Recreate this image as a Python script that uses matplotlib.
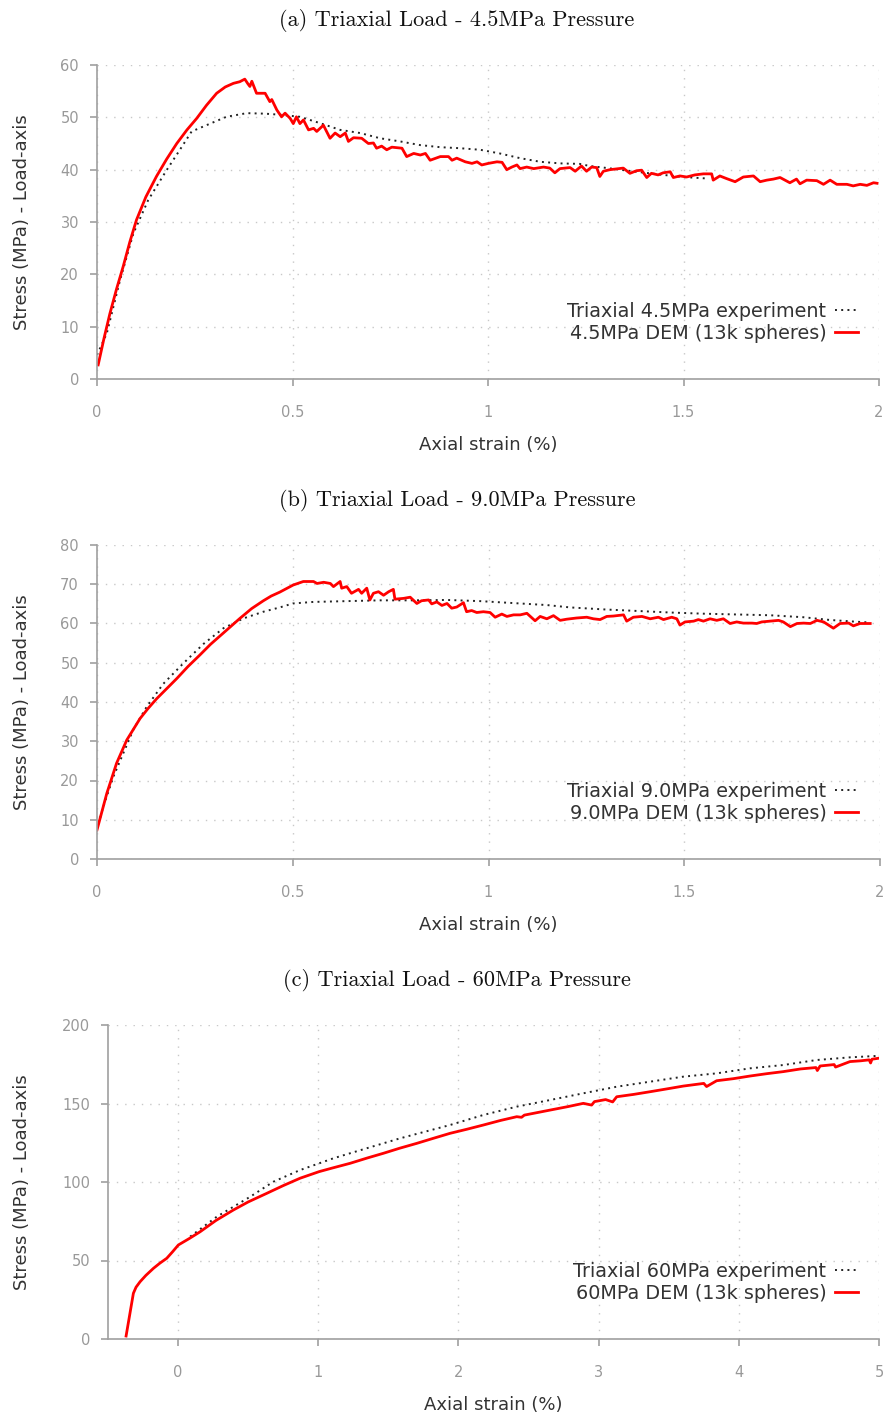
import matplotlib
matplotlib.use("Agg")
import matplotlib.pyplot as plt

# ---- (a) 4.5 MPa confining pressure ----
a_exp_x = [0, 0.025, 0.059, 0.093, 0.131, 0.178, 0.212, 0.242, 0.28, 0.331, 0.383, 0.43,
           0.468, 0.519, 0.57, 0.622, 0.673, 0.724, 0.775, 0.826, 0.877, 0.928, 0.98, 1.03,
           1.082, 1.134, 1.185, 1.235, 1.26, 1.295, 1.38, 1.448, 1.5, 1.563]
a_exp_y = [4.6, 8.7, 18.9, 27.8, 34.2, 39.9, 43.8, 47.3, 48.5, 50.1, 50.8, 50.7,
           50.5, 50.1, 48.9, 47.6, 47.0, 46.0, 45.4, 44.7, 44.3, 44.1, 43.8, 43.1,
           42.2, 41.5, 41.2, 41.1, 40.7, 40.4, 39.6, 39.0, 38.6, 38.3]
a_dem_x = [0.003, 0.018, 0.033, 0.05, 0.067, 0.084, 0.101, 0.125, 0.152, 0.178, 0.204, 0.23,
           0.255, 0.28, 0.306, 0.328, 0.349, 0.365, 0.378, 0.386,
           0.391, 0.396, 0.408, 0.43, 0.442, 0.447, 0.46, 0.472, 0.481, 0.494, 0.502, 0.51,
           0.519, 0.528, 0.541, 0.554, 0.562, 0.579, 0.596, 0.609, 0.622, 0.635, 0.643, 0.656,
           0.677, 0.694, 0.707, 0.715, 0.728, 0.741, 0.754, 0.78, 0.792, 0.81, 0.827, 0.84,
           0.852, 0.878, 0.899, 0.908, 0.92, 0.942, 0.959, 0.972, 0.984, 1.001, 1.023, 1.036,
           1.048, 1.061, 1.074, 1.082, 1.099, 1.117, 1.142, 1.158, 1.171, 1.184, 1.21, 1.223,
           1.239, 1.252, 1.265, 1.278, 1.286, 1.295, 1.312, 1.346, 1.363, 1.38, 1.393, 1.406,
           1.418, 1.435, 1.448, 1.466, 1.474, 1.491, 1.508, 1.529, 1.551, 1.572, 1.576, 1.593,
           1.61, 1.632, 1.653, 1.679, 1.696, 1.713, 1.73, 1.747, 1.772, 1.789, 1.798, 1.815,
           1.841, 1.858, 1.875, 1.892, 1.918, 1.934, 1.952, 1.969, 1.986, 1.995]
a_dem_y = [2.7, 7.8, 12.5, 17.2, 21.5, 26.2, 30.4, 34.8, 38.7, 42.0, 45.0, 47.6,
           49.8, 52.3, 54.6, 55.8, 56.5, 56.8, 57.3, 56.4,
           55.9, 56.9, 54.6, 54.6, 53.0, 53.4, 51.4, 50.1, 50.8, 49.8, 48.8, 50.1,
           48.8, 49.5, 47.6, 47.9, 47.3, 48.5, 46.0, 47.0, 46.3, 47.0, 45.4, 46.1,
           46.0, 45.0, 45.1, 44.1, 44.5, 43.8, 44.3, 44.1, 42.5, 43.1, 42.8, 43.1,
           41.8, 42.5, 42.5, 41.8, 42.2, 41.5, 41.2, 41.5, 40.9, 41.2, 41.5, 41.4,
           40.0, 40.5, 40.9, 40.2, 40.5, 40.2, 40.5, 40.3, 39.4, 40.2, 40.4, 39.7,
           40.7, 39.7, 40.5, 40.4, 38.7, 39.7, 40.0, 40.3, 39.3, 39.8, 39.9, 38.5,
           39.3, 39.0, 39.4, 39.6, 38.5, 38.8, 38.6, 39.0, 39.2, 39.2, 38.0, 38.8,
           38.3, 37.7, 38.6, 38.8, 37.7, 38.0, 38.2, 38.5, 37.5, 38.2, 37.3, 38.0,
           37.9, 37.2, 38.0, 37.2, 37.2, 36.9, 37.2, 37.0, 37.5, 37.4]

# ---- (b) 9.0 MPa confining pressure ----
b_exp_x = [0.008, 0.016, 0.042, 0.067, 0.093, 0.127, 0.169, 0.22, 0.272, 0.323, 0.374, 0.425,
           0.467, 0.5, 0.553, 0.638, 0.723, 0.808, 0.894, 0.979, 1.064, 1.149, 1.208, 1.293,
           1.379, 1.464, 1.549, 1.634, 1.719, 1.804, 1.872, 1.932, 1.966]
b_exp_y = [10.5, 13.3, 21.0, 26.9, 33.0, 38.8, 44.6, 49.8, 54.8, 58.8, 61.3, 63.0,
           64.1, 65.1, 65.5, 65.7, 65.9, 65.9, 66.0, 65.7, 65.2, 64.7, 64.1, 63.6,
           63.2, 62.8, 62.5, 62.3, 62.1, 61.6, 60.9, 60.5, 60.3]
b_dem_x = [0.0, 0.025, 0.05, 0.076, 0.11, 0.13, 0.152, 0.18, 0.204, 0.232, 0.263, 0.29,
           0.323, 0.365, 0.395, 0.425, 0.445, 0.467,
           0.501, 0.527, 0.553, 0.562, 0.579, 0.596, 0.604, 0.621, 0.625, 0.638, 0.65, 0.668,
           0.676, 0.689, 0.697, 0.706, 0.719, 0.732, 0.745, 0.757, 0.761, 0.783, 0.8, 0.817,
           0.829, 0.847, 0.855, 0.868, 0.881, 0.894, 0.906, 0.919, 0.936, 0.944, 0.957, 0.97,
           0.987, 1.004, 1.017, 1.034, 1.047, 1.064, 1.081, 1.098, 1.119, 1.132, 1.149, 1.166,
           1.183, 1.2, 1.225, 1.251, 1.268, 1.285, 1.302, 1.319, 1.345, 1.353, 1.37, 1.392,
           1.413, 1.434, 1.447, 1.468, 1.481, 1.489, 1.502, 1.524, 1.536, 1.549, 1.566, 1.583,
           1.6, 1.617, 1.634, 1.651, 1.673, 1.685, 1.698, 1.719, 1.741, 1.753, 1.771, 1.788,
           1.805, 1.822, 1.839, 1.856, 1.881, 1.898, 1.92, 1.932, 1.949, 1.975]
b_dem_y = [7.4, 16.7, 24.4, 30.3, 35.8, 38.3, 40.8, 43.6, 46.0, 49.0, 52.0, 54.7,
           57.6, 61.3, 63.8, 65.8, 67.0, 68.0,
           69.8, 70.7, 70.7, 70.2, 70.5, 70.2, 69.4, 70.7, 69.0, 69.4, 67.7, 68.7,
           67.7, 69.0, 66.0, 67.7, 68.1, 67.2, 68.1, 68.7, 66.2, 66.4, 66.7, 65.1,
           65.8, 66.0, 65.0, 65.5, 64.6, 65.1, 63.9, 64.2, 65.3, 63.0, 63.3, 62.8,
           63.0, 62.8, 61.6, 62.4, 61.8, 62.2, 62.2, 62.6, 60.7, 61.8, 61.2, 62.0,
           60.8, 61.1, 61.4, 61.6, 61.2, 61.0, 61.8, 61.9, 62.2, 60.6, 61.6, 61.8,
           61.2, 61.6, 61.0, 61.6, 61.2, 59.6, 60.4, 60.6, 61.0, 60.6, 61.2, 60.8,
           61.2, 60.0, 60.4, 60.1, 60.1, 60.0, 60.4, 60.6, 60.8, 60.4, 59.2, 60.0,
           60.1, 60.0, 60.8, 60.4, 58.8, 60.0, 60.1, 59.4, 60.0, 60.0]

# ---- (c) 60 MPa confining pressure ----
c_exp_x = [0.086, 0.276, 0.514, 0.68, 0.87, 1.108, 1.346, 1.583, 1.94, 2.178, 2.416, 2.653,
           2.891, 3.129, 3.367, 3.604, 3.842, 4.08, 4.317, 4.555, 4.793, 4.983]
c_exp_y = [65.2, 77.9, 90.6, 100.2, 107.6, 115.1, 121.5, 127.8, 136.3, 142.7, 148.0, 152.2,
           156.5, 160.7, 163.9, 167.1, 169.2, 172.4, 174.5, 177.7, 179.4, 180.3]
c_dem_x = [-0.371, -0.345, -0.319, -0.3, -0.271, -0.23, -0.176, -0.13, -0.081, -0.04, 0.002,
           0.08, 0.157, 0.27, 0.395, 0.5, 0.633, 0.75, 0.87, 1.006, 1.1,
           1.227, 1.35, 1.465, 1.58, 1.702, 1.82, 1.94, 2.06, 2.178, 2.3, 2.416, 2.45, 2.47,
           2.653, 2.78, 2.891, 2.95, 2.97, 3.05, 3.1, 3.129, 3.25, 3.367, 3.5,
           3.604, 3.75, 3.77, 3.842, 3.96, 4.08, 4.2, 4.317, 4.44, 4.55, 4.56, 4.58, 4.68,
           4.69, 4.793, 4.87, 4.93, 4.94, 4.95, 4.995]
c_dem_y = [1.9, 15.5, 29.1, 33.0, 36.5, 40.5, 45.0, 48.3, 51.4, 55.5, 59.9,
           64.0, 68.3, 75.5, 82.2, 87.3, 92.8, 97.7, 102.4, 106.6, 108.9,
           111.9, 115.3, 118.3, 121.5, 124.6, 127.8, 131.0, 133.6, 136.3, 139.2, 141.6, 141.2, 142.6,
           145.8, 148.0, 150.1, 149.0, 151.2, 152.5, 151.0, 154.3, 155.8, 157.5, 159.5,
           161.1, 162.8, 160.8, 164.5, 165.8, 167.5, 169.0, 170.3, 172.0, 172.9, 171.0, 173.9, 174.8,
           173.2, 176.7, 177.2, 177.8, 175.8, 178.2, 178.8]

panels = [
    dict(title="(a) Triaxial Load - 4.5MPa Pressure",
         exp=(a_exp_x, a_exp_y), dem=(a_dem_x, a_dem_y),
         labels=("Triaxial 4.5MPa experiment", "4.5MPa DEM (13k spheres)"),
         xlim=(0, 2), xticks=[0, 0.5, 1, 1.5, 2], xtl=["0", "0.5", "1", "1.5", "2"],
         ylim=(0, 60), yticks=range(0, 61, 10),
         rect=[97, 65, 879, 379], title_y=20, xlabel_y=445),
    dict(title="(b) Triaxial Load - 9.0MPa Pressure",
         exp=(b_exp_x, b_exp_y), dem=(b_dem_x, b_dem_y),
         labels=("Triaxial 9.0MPa experiment", "9.0MPa DEM (13k spheres)"),
         xlim=(0, 2), xticks=[0, 0.5, 1, 1.5, 2], xtl=["0", "0.5", "1", "1.5", "2"],
         ylim=(0, 80), yticks=range(0, 81, 10),
         rect=[97, 545, 880, 859], title_y=500, xlabel_y=925),
    dict(title="(c) Triaxial Load - 60MPa Pressure",
         exp=(c_exp_x, c_exp_y), dem=(c_dem_x, c_dem_y),
         labels=("Triaxial 60MPa experiment", "60MPa DEM (13k spheres)"),
         xlim=(-0.5, 5), xticks=[0, 1, 2, 3, 4, 5], xtl=["0", "1", "2", "3", "4", "5"],
         ylim=(0, 200), yticks=range(0, 201, 50),
         rect=[108, 1025, 879, 1339], title_y=980, xlabel_y=1405),
]

W, H = 888, 1416
fig = plt.figure(figsize=(W / 100, H / 100), dpi=100)
sans = "DejaVu Sans"
axis_grey = "#a0a0a0"
label_size = 13

for p in panels:
    l, t, r, b = p["rect"]
    ax = fig.add_axes([l / W, 1 - b / H, (r - l) / W, (b - t) / H])

    ex, ey = p["exp"]
    dx, dy = p["dem"]
    ax.plot(ex, ey, color="#222222", lw=1.4, linestyle=(0, (1, 2.2)), label=p["labels"][0])
    ax.plot(dx, dy, color="#ff0000", lw=2.0, label=p["labels"][1])

    ax.set_xlim(*p["xlim"])
    ax.set_ylim(*p["ylim"])
    ax.set_xticks(p["xticks"])
    ax.set_xticklabels(p["xtl"])
    ax.set_yticks(list(p["yticks"]))

    for side in ("top", "right"):
        ax.spines[side].set_visible(False)
    for side in ("left", "bottom"):
        ax.spines[side].set_color(axis_grey)
        ax.spines[side].set_linewidth(1.2)
    ax.tick_params(axis="both", direction="out", length=5, width=1.2, color=axis_grey,
                   labelcolor="#999999", labelsize=10.5)
    ax.tick_params(axis="x", pad=14)
    ax.tick_params(axis="y", pad=8)
    for lbl in ax.get_xticklabels() + ax.get_yticklabels():
        lbl.set_family(sans)

    ax.grid(True, color="#c8c8c8", linestyle=(0, (1, 5)), linewidth=1.0)
    ax.set_axisbelow(True)

    # axis titles placed in figure pixels
    fig.text(22 / W, 1 - (t + b) / 2 / H, "Stress (MPa) - Load-axis", fontsize=label_size,
             color="#333333", family=sans, rotation=90, ha="center", va="center")
    fig.text((l + r) / 2 / W, 1 - p["xlabel_y"] / H, "Axial strain (%)", fontsize=label_size,
             color="#333333", family=sans, ha="center", va="center")

    leg_x = (858 - l) / (r - l)
    leg_y = 36 / (b - t)
    ax.legend(loc="lower right", bbox_to_anchor=(leg_x, leg_y), frameon=False,
              markerfirst=False, handlelength=1.2, handletextpad=0.45, borderpad=0,
              borderaxespad=0, labelspacing=0.15, prop={"family": sans, "size": 13.8},
              labelcolor="#333333")

    fig.text(457 / W, 1 - p["title_y"] / H, p["title"], fontsize=16, family="cmr10",
             ha="center", va="center", color="#111111")

fig.savefig("out.png", dpi=100)
